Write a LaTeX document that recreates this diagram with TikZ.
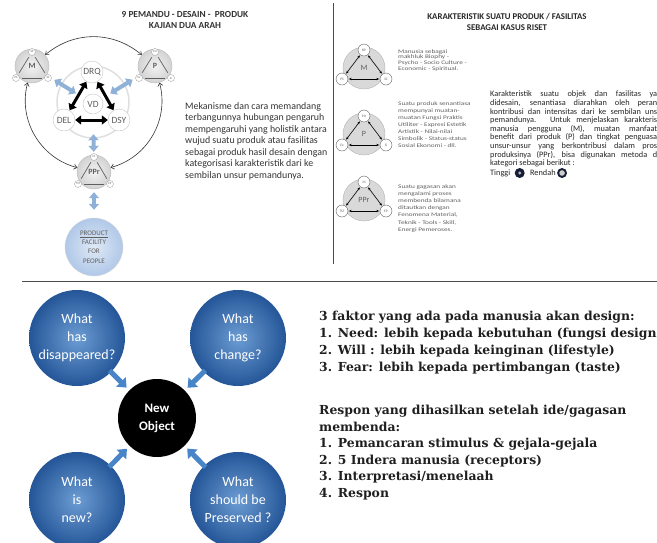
\documentclass[tikz,border=0pt]{standalone}
\usepackage{fontspec}
\setmainfont{Carlito}
\newfontfamily\tebalfont{DejaVu Serif}
\newfontfamily\lebarfont[FakeStretch=1.32]{Carlito}
\usetikzlibrary{arrows.meta,positioning}
\definecolor{abu}{RGB}{95,95,95}
\definecolor{birumuda}{RGB}{143,177,216}
\definecolor{biruprod}{RGB}{176,200,232}
\definecolor{birubola}{RGB}{72,132,200}
\definecolor{birutua}{RGB}{36,86,152}
\definecolor{navy}{RGB}{22,30,55}
\tikzset{
  pemandu/.style={circle,draw=gray!55,inner color=gray!10,outer color=gray!35,minimum size=34pt,inner sep=0pt,font=\bfseries\fontsize{8}{8}\selectfont,text=abu},
  unsur/.style={circle,draw=gray!70,fill=white,minimum size=7pt,inner sep=0pt,font=\fontsize{3}{3}\selectfont,text=abu},
  inti/.style={circle,draw=gray!45,fill=white,minimum size=22pt,inner sep=0pt,font=\fontsize{9.5}{9.5}\selectfont,text=abu},
  garis/.style={abu,line width=0.7pt,shorten >=2.5pt,shorten <=2.5pt},
  hitam/.style={{Triangle[width=9pt,length=6pt]}-{Triangle[width=9pt,length=6pt]},line width=3pt},
  biru/.style={{Triangle[width=10pt,length=6pt]}-{Triangle[width=10pt,length=6pt]},line width=4pt,birumuda},
  timbal/.style={{Straight Barb[length=3pt,width=5pt]}-{Straight Barb[length=3pt,width=5pt]},line width=0.6pt,black!80},
  kasus/.style={circle,draw=gray!60,fill=gray!30,minimum size=42pt,inner sep=0pt,font=\fontsize{8}{8}\selectfont,text=abu},
  kecil/.style={circle,draw=abu,fill=white,minimum size=12pt,inner sep=0pt,font=\fontsize{3.5}{3.5}\selectfont,text=abu},
  panahk/.style={{Stealth[length=3pt]}-{Stealth[length=3pt]},line width=0.6pt,shorten >=0.5pt,shorten <=0.5pt},
  catatan/.style={anchor=north west,inner sep=0pt,align=left,text=abu},
  tanya/.style={circle,minimum size=96pt,inner sep=0pt,inner color=birubola!80!white,outer color=birutua,text=white,align=center,font=\fontsize{14}{18}\selectfont},
  panah/.style={birubola,line width=5pt,-{Triangle[width=13pt,length=8pt]}},
}
\begin{document}
\begin{tikzpicture}[x=1pt,y=1pt]
    \useasboundingbox (0,0) rectangle (657,-542);
    \clip (0,0) rectangle (657,-542);
    % garis pemisah
    \draw[gray!60!black,line width=1pt] (333,-3) -- (333,-264);
    \draw[gray!60!black,line width=1pt] (22,-281) -- (657,-281);

    % 9 pemandu, kajian dua arah
    \draw node at (185,-20)[name=judulA,align=center,font=\bfseries\fontsize{9.3}{11}\selectfont,text=black!80]{9 PEMANDU - DESAIN -\ \ PRODUK\\KAJIAN DUA ARAH};
    \draw node at (93,-102)[name=lingkar,circle,draw=gray!25,line width=1.5pt,minimum size=72pt]{};
    \draw node at (92,-72)[inti,name=DRQ]{DRQ};
    \draw node at (64,-120)[inti,name=DEL]{DEL};
    \draw node at (119,-120)[inti,name=DSY]{DSY};
    \draw node at (93,-104)[inti,minimum size=20pt,name=VD]{VD};
    \draw[hitam] (DRQ) -- (DEL);
    \draw[hitam] (DRQ) -- (DSY);
    \draw[hitam] (DEL) -- (DSY);

    \draw node at (32,-66)[pemandu,name=M]{M};
    \draw node at (32,-52)[unsur,name=MSP]{SP};
    \draw node at (16,-78)[unsur,name=MPS]{PS};
    \draw node at (48,-78)[unsur,name=MSC]{SC};
    \draw[garis] (MPS) -- (MSP);
    \draw[garis] (MSP) -- (MSC);
    \draw[garis] (MPS) -- (MSC);

    \draw node at (155,-66)[pemandu,name=P]{P};
    \draw node at (155,-52)[unsur,name=PPU]{PU};
    \draw node at (139,-78)[unsur,name=PEx]{Ex};
    \draw node at (171,-78)[unsur,name=PSi]{Si};
    \draw[garis] (PEx) -- (PPU);
    \draw[garis] (PPU) -- (PSi);
    \draw[garis] (PEx) -- (PSi);

    \draw node at (94,-172)[pemandu,name=PPr]{PPr};
    \draw node at (94,-157)[unsur,name=RM]{M};
    \draw node at (78,-184)[unsur,name=RTST]{TST};
    \draw node at (110,-184)[unsur,name=REP]{EP};
    \draw[garis] (RTST) -- (RM);
    \draw[garis] (RM) -- (REP);
    \draw[garis] (RTST) -- (REP);

    \draw node at (94,-247)[name=produk,circle,draw=gray!30,inner color=biruprod!40!white,outer color=biruprod,minimum size=58pt,align=center,font=\fontsize{7}{9.3}\selectfont,text=abu]{\underline{PRODUCT}\\FACILITY\\FOR\\PEOPLE};

    \draw[biru,shorten <=9pt,shorten >=10pt] (M) -- (VD);
    \draw[biru,shorten <=9pt,shorten >=10pt] (P) -- (VD);
    \draw[biru,shorten <=20pt,shorten >=3pt] (VD) -- (PPr);
    \draw[biru,shorten <=3pt,shorten >=8pt] (PPr) -- (produk);

    \draw[timbal] (M) to[bend left=40] (P);
    \draw[timbal] (M) to[bend right=45] (PPr);
    \draw[timbal] (P) to[bend left=45] (PPr);

    \draw node at (185,-102)[name=mekanisme,catatan,text=black!80,font=\fontsize{9.9}{11.5}\selectfont]{Mekanisme dan cara memandang\\terbangunnya hubungan pengaruh\\mempengaruhi yang holistik antara\\wujud suatu produk atau fasilitas\\sebagai produk hasil desain dengan\\kategorisasi karakteristik dari ke\\sembilan unsur pemandunya.};

    % karakteristik suatu produk
    \draw node at (507,-22)[name=judulB,align=center,font=\bfseries\fontsize{8.8}{11}\selectfont,text=black!85]{KARAKTERISTIK SUATU PRODUK / FASILITAS\\SEBAGAI KASUS RISET};

    \draw node at (364,-68)[kasus,name=kM]{M};
    \draw node at (364,-50)[kecil,name=kBP]{BP};
    \draw node at (342,-79)[kecil,name=kPS]{PS};
    \draw node at (386,-79)[kecil,name=kSC]{SC};
    \draw[panahk] (kBP) -- (kPS);
    \draw[panahk] (kBP) -- (kSC);
    \draw[panahk] (kPS) -- (kSC);

    \draw node at (364,-134)[kasus,name=kP]{P};
    \draw node at (364,-116)[kecil,name=kPU]{PU};
    \draw node at (342,-145)[kecil,name=kEx]{Ex};
    \draw node at (386,-145)[kecil,name=kSi]{Si};
    \draw[panahk] (kPU) -- (kEx);
    \draw[panahk] (kPU) -- (kSi);
    \draw[panahk] (kEx) -- (kSi);

    \draw node at (364,-200)[kasus,name=kPPr]{PPr};
    \draw node at (364,-182)[kecil,name=kRM]{M};
    \draw node at (342,-211)[kecil,name=kTST]{TST};
    \draw node at (386,-211)[kecil,name=kEP]{EP};
    \draw[panahk] (kRM) -- (kTST);
    \draw[panahk] (kRM) -- (kEP);
    \draw[panahk] (kTST) -- (kEP);

    \draw node at (398,-49)[catatan,name=tM,font=\lebarfont\fontsize{5.5}{5.9}\selectfont]{Manusia sebagai\\makhluk Biophy -\\Psycho - Socio Culture -\\Economic - Spiritual.};
    \draw node at (398,-101)[catatan,name=tP,font=\lebarfont\fontsize{5.5}{7}\selectfont]{Suatu produk senantiasa\\mempunyai muatan-\\muatan Fungsi Praktis\\Utiliter - Expresi Estetik\\Artistik - Nilai-nilai\\Simbolik - Status-status\\Sosial Ekonomi - dll.};
    \draw node at (398,-184)[catatan,name=tPPr,font=\lebarfont\fontsize{5.5}{7.2}\selectfont]{Suatu gagasan akan\\mengalami proses\\membenda bilamana\\ditautkan dengan\\Fenomena Material,\\Teknik - Tools - Skill,\\Energi Pemeroses.};

    \draw node at (490,-91)[name=karakter,anchor=north west,inner sep=0pt,text width=167pt,align=justify,font=\fontsize{8.3}{8.6}\selectfont,text=black!85]{\tolerance=10000 Karakteristik suatu objek dan fasilitas ya\linebreak didesain, senantiasa diarahkan oleh peran\linebreak kontribusi dan intensitas dari ke sembilan uns\linebreak pemandunya. Untuk menjelaskan karakteris\linebreak manusia pengguna (M), muatan manfaat\linebreak benefit dari produk (P) dan tingkat penguasa\linebreak unsur-unsur yang berkontribusi dalam pros\linebreak produksinya (PPr), bisa digunakan metoda d\linebreak kategori sebagai berikut :};
    \draw node at (490,-173)[name=tinggi,anchor=west,inner sep=0pt,font=\fontsize{8.3}{8.6}\selectfont,text=black!85]{Tinggi};
    \draw node[right=4pt of tinggi,name=bulatT,circle,fill=navy,minimum size=10pt,inner sep=0pt,path picture={\fill[gray!55] (path picture bounding box.center) circle (1.6pt);}]{};
    \draw node[right=5pt of bulatT,name=rendah,inner sep=0pt,font=\fontsize{8.3}{8.6}\selectfont,text=black!85]{Rendah};
    \draw node[right=1pt of rendah,name=bulatR,circle,fill=navy,minimum size=10pt,inner sep=0pt,path picture={\fill[gray!40] (path picture bounding box.center) circle (2.8pt);}]{};

    % new object
    \draw node at (77,-338)[tanya,name=hilang]{What\\has\\disappeared?};
    \draw node at (238,-338)[tanya,name=berubah]{What\\has\\change?};
    \draw node at (77,-500)[tanya,name=baru]{What\\is\\new?};
    \draw node at (238,-500)[tanya,name=lestari]{What\\should be\\Preserved ?};
    \draw node at (157,-418)[name=objek,circle,fill=black,minimum size=78pt,text=white,align=center,font=\bfseries\fontsize{13}{18}\selectfont]{New\\Object};
    \draw[panah,shorten <=46pt,shorten >=43pt] (hilang.center) -- (objek.center);
    \draw[panah,shorten <=46pt,shorten >=43pt] (berubah.center) -- (objek.center);
    \draw[panah,shorten <=46pt,shorten >=43pt] (baru.center) -- (objek.center);
    \draw[panah,shorten <=46pt,shorten >=43pt] (lestari.center) -- (objek.center);

    \draw node at (319,-311)[name=faktor,anchor=north west,inner sep=0pt,align=left,text=black!88,font=\tebalfont\bfseries\fontsize{12.4}{16.9}\selectfont]{3 faktor yang ada pada manusia akan design:\\1. Need: lebih kepada kebutuhan (fungsi design\\2. Will : lebih kepada keinginan (lifestyle)\\3. Fear: lebih kepada pertimbangan (taste)};
    \draw node at (319,-405)[name=respon,anchor=north west,inner sep=0pt,align=left,text=black!88,font=\tebalfont\bfseries\fontsize{12.4}{16.5}\selectfont]{Respon yang dihasilkan setelah ide/gagasan\\membenda:\\1. Pemancaran stimulus \& gejala-gejala\\2. 5 Indera manusia (receptors)\\3. Interpretasi/menelaah\\4. Respon};
\end{tikzpicture}
\end{document}
